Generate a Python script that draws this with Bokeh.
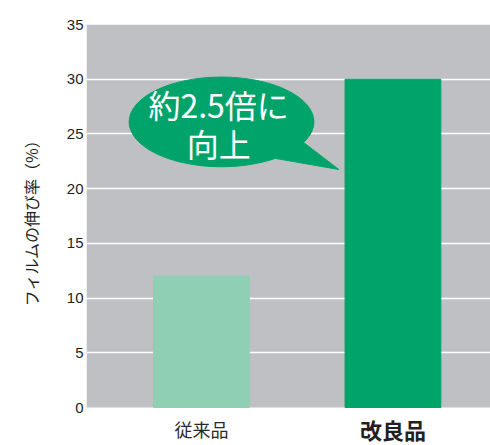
from bokeh.plotting import figure
from bokeh.models import Range1d, FixedTicker, BoxAnnotation, ColumnDataSource, Title
from bokeh.core.properties import value
from bokeh.embed import file_html
from bokeh.resources import INLINE

categories = ["従来品", "改良品"]
elongation = [12, 30]
bar_colors = ["#8fcfb3", "#00a46b"]
y_ticks = [0, 5, 10, 15, 20, 25, 30, 35]
y_label = "フィルムの伸び率（%）"
callout_lines = ["約2.5倍に", "向上"]

xs = [1.2 + 2 * i for i in range(len(categories))]
px_per_unit = 383 / 35.0
below = -38 / px_per_unit

p = figure(width=490, height=445, output_backend="svg", toolbar_location=None,
           x_range=Range1d(0, 405 / 96), y_range=Range1d(below, 35),
           min_border_left=85, min_border_right=0, min_border_top=24, min_border_bottom=0)
p.background_fill_color = "white"
p.border_fill_color = "white"
p.outline_line_color = None

# gray plotting area (y >= 0)
p.add_layout(BoxAnnotation(bottom=0, fill_color="#bfc0c4", fill_alpha=1.0,
                           line_color=None, level="image"))

src = ColumnDataSource(dict(x=xs, top=elongation, color=bar_colors, cat=categories))
p.vbar(x="x", top="top", width=1.0, bottom=0, color="color", source=src)

p.xgrid.visible = False
p.ygrid.ticker = FixedTicker(ticks=y_ticks[1:-1])
p.ygrid.grid_line_color = "white"
p.ygrid.grid_line_width = 1.5

p.xaxis.visible = False
ya = p.yaxis[0]
ya.ticker = FixedTicker(ticks=y_ticks)
ya.bounds = (0, 35)
ya.axis_line_color = None
ya.major_tick_line_color = None
ya.minor_tick_line_color = None
ya.major_tick_out = 0
ya.major_label_standoff = 3
ya.major_label_text_font = "Liberation Sans"
ya.major_label_text_font_size = "15px"
ya.major_label_text_color = "#231f20"

# vertical axis title, positioned along the 0-35 span
p.add_layout(Title(text=y_label, align="right", offset=107, standoff=37,
                   vertical_align="top",
                   text_font="Noto Sans CJK JP", text_font_style="normal",
                   text_font_size="16px", text_color="#231f20"), "left")

# category labels under the bars
p.text(x=[xs[0]], y=[-2.0], text=[categories[0]], text_font=value("Noto Sans CJK JP"),
       text_font_size="18px", text_color="#2a2a2a", text_align="center", text_baseline="middle")
p.text(x=[xs[1]], y=[-2.0], text=[categories[1]], text_font=value("Noto Sans CJK JP"),
       text_font_size="22px", text_font_style="bold", text_color="#231f20",
       text_align="center", text_baseline="middle")

# speech bubble
bubble_color = "#00a46b"
p.ellipse(x=[1.41], y=[26.1], width=[1.93], height=[8.2], color=bubble_color)
p.patch(x=[2.24, 2.635, 1.98], y=[24.4, 21.75, 22.75], color=bubble_color)
p.text(x=[1.38, 1.38], y=[27.75, 24.2], text=callout_lines,
       text_font=value("Noto Sans CJK JP"), text_font_size="32px",
       text_color="white", text_align="center", text_baseline="middle")

open("out.html", "w").write(file_html(p, INLINE))
